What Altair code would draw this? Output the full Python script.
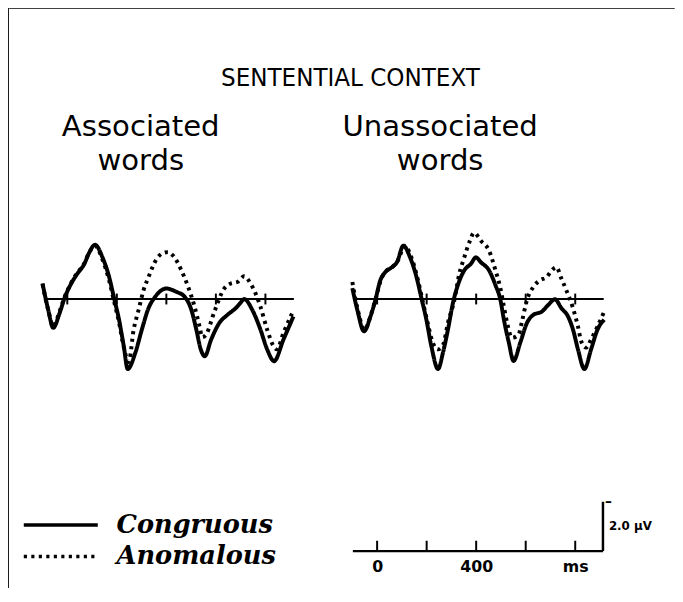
import altair as alt
import pandas as pd

# ---------------- data ----------------
conditions = ["Congruous", "Anomalous"]

# Associated words panel
assoc_cong_ms = [-100, -77, -57, -31, -11, 16, 36, 69, 89, 112, 142, 169, 189, 209, 228, 244,
                 275, 301, 328, 355, 381, 401, 420, 441, 474, 501, 521, 539, 555, 581, 614,
                 647, 680, 699, 714, 747, 780, 807, 835, 873, 913]
assoc_cong_uv = [-0.63, 0.44, 1.17, 0.57, -0.04, -0.63, -0.96, -1.43, -1.89, -2.2, -1.69, -0.89,
                 -0.03, 0.84, 1.91, 2.84, 2.17, 1.24, 0.37, -0.09, -0.36, -0.43, -0.38, -0.29,
                 -0.09, 0.44, 1.24, 2.04, 2.32, 1.64, 0.97, 0.64, 0.37, 0.16, 0.0, 0.44, 1.24,
                 2.04, 2.52, 1.64, 0.71]
assoc_anom_ms = [-100, -77, -57, -31, -11, 16, 36, 69, 89, 112, 142, 169, 189, 209, 228, 248,
                 268, 288, 308, 328, 361, 386, 406, 425, 461, 488, 514, 534, 545, 560, 594,
                 634, 660, 687, 714, 740, 760, 780, 807, 833, 846, 873, 913]
assoc_anom_uv = [-0.6, 0.45, 1.1, 0.5, -0.08, -0.66, -1.0, -1.45, -1.9, -2.15, -1.6, -0.75,
                 0.1, 0.95, 1.95, 2.55, 1.24, 0.44, -0.36, -0.89, -1.63, -1.86, -1.9, -1.78,
                 -1.16, -0.49, 0.31, 1.11, 1.55, 1.45, 0.51, -0.43, -0.63, -0.69, -0.92, -0.63,
                 -0.23, 0.31, 1.24, 1.91, 2.04, 1.37, 0.47]

# Unassociated words panel
unassoc_cong_ms = [-100, -80, -53, -27, -7, 13, 33, 60, 80, 106, 133, 159, 179, 199, 219, 246,
                   266, 286, 306, 326, 352, 379, 399, 419, 452, 478, 498, 512, 532, 551, 578,
                   605, 631, 665, 691, 718, 744, 771, 791, 811, 837, 864, 890, 917]
unassoc_cong_uv = [-0.44, 0.44, 1.31, 0.71, 0.04, -0.76, -1.09, -1.29, -1.49, -2.16, -1.69,
                   -0.89, -0.03, 0.84, 1.91, 2.84, 2.17, 1.24, 0.17, -0.56, -1.16, -1.43, -1.69,
                   -1.49, -1.16, -0.56, 0.04, 0.84, 1.77, 2.51, 1.77, 0.97, 0.64, 0.51, 0.24,
                   0.01, 0.37, 0.71, 1.24, 2.04, 2.84, 2.04, 1.24, 0.84]
unassoc_anom_ms = [-100, -80, -50, -24, -4, 16, 36, 64, 84, 112, 140, 165, 183, 203, 223, 246,
                   267, 286, 312, 332, 352, 372, 392, 419, 452, 478, 498, 512, 525, 545, 571,
                   585, 605, 631, 658, 685, 705, 724, 744, 764, 791, 811, 824, 844, 864, 890, 917]
unassoc_anom_uv = [-0.69, 0.36, 1.24, 0.6, -0.08, -0.8, -1.12, -1.32, -1.56, -2.16, -1.64,
                   -0.76, 0.04, 0.92, 1.72, 2.04, 1.84, 0.97, 0.04, -1.03, -1.69, -2.29, -2.69,
                   -2.36, -1.96, -1.16, -0.43, 0.31, 0.97, 1.57, 1.44, 0.91, 0.04, -0.49, -0.76,
                   -0.89, -1.16, -1.29, -0.83, -0.36, 0.37, 1.11, 1.71, 1.97, 1.64, 1.11, 0.51]

baseline_span = [-90, 915]          # ms covered by the zero line
tick_ms = [0, 200, 400, 600, 800]   # time ticks on the zero line and on the scale bar
scale_tick_labels = ["0", "", "400", "", "ms"]
scale_span_ms = [-100, 910]
scale_uv = 2.0

# ---------------- styling constants ----------------
SANS = "DejaVu Sans"
TITLE_FONT = "Liberation Sans Narrow, DejaVu Sans Condensed, Liberation Sans"
SERIF = "DejaVu Serif"
TICK_HALF = 0.22     # uV, half length of the ticks on the zero line
SB_TICK = 0.4        # uV, length of ticks on the scale bar
PX_PER_UV = 25

dash_scale = alt.Scale(domain=conditions, range=[[1, 0], [3.2, 4.4]])

# long horizontal stroke as legend swatch (path is 3x the nominal symbol size)
legend = alt.Legend(
    title=None, orient="none", legendX=15, legendY=510,
    symbolType="M-3,0H3", symbolSize=625, symbolStrokeWidth=3.5, symbolOffset=25,
    symbolStrokeColor="black", symbolFillColor="transparent",
    clipHeight=30, rowPadding=2,
    labelFont=SERIF, labelFontStyle="italic", labelFontWeight="bold", labelFontSize=26,
    labelColor="black", labelOffset=42, labelLimit=400,
)


def frame(ms, uv, cond):
    return pd.DataFrame({"ms": ms, "uv": uv, "condition": cond})


def panel(c_ms, c_uv, a_ms, a_uv, title_lines, dx):
    xs = alt.Scale(domain=[-100, 920])
    ys = alt.Scale(domain=[-3, 3], reverse=True)
    waves = pd.concat([frame(c_ms, c_uv, conditions[0]), frame(a_ms, a_uv, conditions[1])])
    base_df = pd.DataFrame({"ms": [baseline_span[0]], "ms2": [baseline_span[1]], "uv": [0.0]})
    tick_df = pd.DataFrame({"ms": tick_ms})
    tick_df["lo"] = -TICK_HALF
    tick_df["hi"] = TICK_HALF

    zero = alt.Chart(base_df).mark_rule(color="black", strokeWidth=2).encode(
        x=alt.X("ms:Q", scale=xs, axis=None), x2="ms2:Q",
        y=alt.Y("uv:Q", scale=ys, axis=None))
    ticks = alt.Chart(tick_df).mark_rule(color="black", strokeWidth=2).encode(
        x=alt.X("ms:Q", scale=xs, axis=None),
        y=alt.Y("lo:Q", scale=ys, axis=None), y2="hi:Q")
    lines = alt.Chart(waves).mark_line(
        color="black", strokeWidth=4, strokeCap="butt", strokeJoin="round",
        interpolate="monotone").encode(
        x=alt.X("ms:Q", scale=xs, axis=None),
        y=alt.Y("uv:Q", scale=ys, axis=None),
        strokeDash=alt.StrokeDash("condition:N", scale=dash_scale, legend=legend),
    )
    return alt.layer(zero, ticks, lines).properties(
        width=256, height=6 * PX_PER_UV,
        title=alt.TitleParams(title_lines, font=SANS, fontSize=29.5, fontWeight="normal",
                              color="black", lineHeight=35, anchor="middle", offset=49, dx=dx),
    )


left_panel = panel(assoc_cong_ms, assoc_cong_uv, assoc_anom_ms, assoc_anom_uv,
                   ["Associated", "words"], -28.5)
right_panel = panel(unassoc_cong_ms, unassoc_cong_uv, unassoc_anom_ms, unassoc_anom_uv,
                    ["Unassociated", "words"], -39)

# ---------------- calibration bar ----------------
label_expr = " : ".join(
    f"datum.value == {v} ? '{t}'" for v, t in zip(tick_ms, scale_tick_labels) if t
) + " : ''"
sb_df = pd.DataFrame({"ms": tick_ms})
sb_df["lo"] = 0.0
sb_df["hi"] = SB_TICK

scalebar = alt.Chart(sb_df).mark_rule(color="black", strokeWidth=2).encode(
    x=alt.X("ms:Q", scale=alt.Scale(domain=scale_span_ms, nice=False),
            axis=alt.Axis(orient="bottom", values=tick_ms, ticks=False, tickSize=0,
                          domain=True, domainColor="black", domainWidth=2.5, grid=False,
                          labelExpr=label_expr, labelFont=SANS, labelFontSize=16,
                          labelFontWeight="bold", labelColor="black", labelPadding=8,
                          labelFlush=False, title=None)),
    y=alt.Y("lo:Q", scale=alt.Scale(domain=[0, scale_uv], nice=False),
            axis=alt.Axis(orient="right", values=[scale_uv], ticks=False, tickSize=0,
                          domain=True, domainColor="black", domainWidth=2.5, grid=False,
                          labelExpr="'–'", labelFont=SANS, labelFontSize=14,
                          labelFontWeight="bold", labelColor="black", labelPadding=2,
                          labelFlush=False,
                          title=f"{scale_uv:.1f} µV", titleAngle=0, titleAlign="left",
                          titleBaseline="middle", titleX=6, titleY=scale_uv * PX_PER_UV / 2,
                          titleFont=SANS, titleFontSize=12, titleFontWeight="bold",
                          titleColor="black")),
    y2="hi:Q",
).properties(width=(scale_span_ms[1] - scale_span_ms[0]) * 256 / 1020,
             height=scale_uv * PX_PER_UV)

# ---------------- frame pieces ----------------
dummy = pd.DataFrame({"k": [0]})
ghost = dict(opacity=0, size=0, strokeWidth=0)
top_border = alt.Chart(dummy).mark_point(**ghost).properties(
    width=673, height=1, view=alt.ViewBackground(stroke="black", strokeWidth=1.5))
left_border = alt.Chart(dummy).mark_point(**ghost).properties(
    width=1, height=588, view=alt.ViewBackground(stroke="black", strokeWidth=1.2))
spacer = alt.Chart(dummy).mark_point(**ghost).properties(width=1, height=1)

content = alt.hconcat(
    left_panel,
    alt.vconcat(right_panel, scalebar, spacing=121),
    spacing=46,
    title=alt.TitleParams("SENTENTIAL CONTEXT", font=TITLE_FONT, fontSize=26, fontWeight="normal",
                          color="black", anchor="middle", offset=21, dx=4.5),
)
row2 = alt.hconcat(spacer, content, spacing=29)
column = alt.vconcat(top_border, row2, spacing=57)

chart = alt.hconcat(left_border, column, spacing=0).properties(
    padding={"top": -6, "left": -2, "right": 0, "bottom": 0}, background="white"
).configure_view(stroke="transparent")

chart.save("out.html", embed_options={"renderer": "svg", "actions": False})
